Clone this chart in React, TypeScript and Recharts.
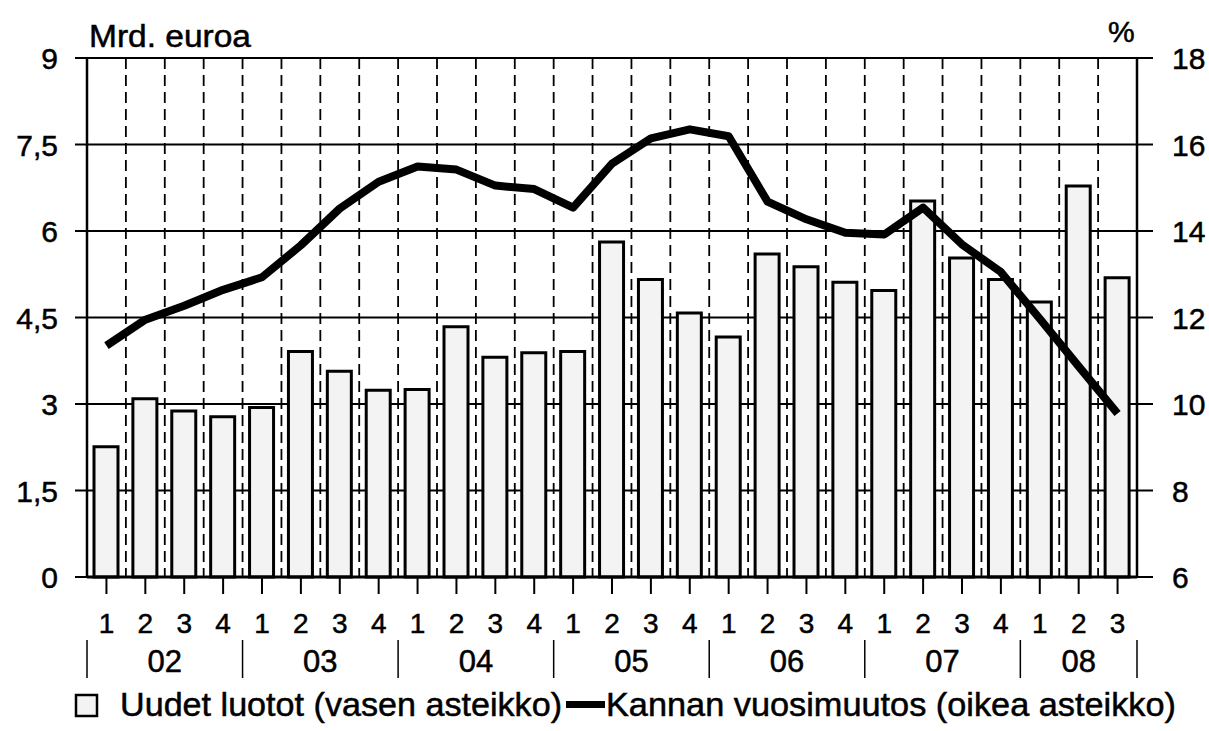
import { Bar, CartesianGrid, ComposedChart, Line, XAxis, YAxis } from "recharts";

// quarters 2002Q1 .. 2008Q3
const periods = [
  "02Q1", "02Q2", "02Q3", "02Q4",
  "03Q1", "03Q2", "03Q3", "03Q4",
  "04Q1", "04Q2", "04Q3", "04Q4",
  "05Q1", "05Q2", "05Q3", "05Q4",
  "06Q1", "06Q2", "06Q3", "06Q4",
  "07Q1", "07Q2", "07Q3", "07Q4",
  "08Q1", "08Q2", "08Q3",
];

// Uudet luotot, mrd. euroa (left scale)
const newLoans = [
  2.26, 3.09, 2.88, 2.78,
  2.94, 3.91, 3.57, 3.24,
  3.25, 4.34, 3.81, 3.89,
  3.91, 5.81, 5.16, 4.58,
  4.16, 5.6, 5.38, 5.11,
  4.97, 6.52, 5.53, 5.16,
  4.77, 6.78, 5.19,
];

// Kannan vuosimuutos, % (right scale)
const stockChange = [
  11.35, 11.95, 12.27, 12.64,
  12.93, 13.67, 14.52, 15.14,
  15.49, 15.42, 15.05, 14.97,
  14.54, 15.56, 16.14, 16.35,
  16.19, 14.68, 14.27, 13.96,
  13.92, 14.54, 13.69, 13.05,
  11.97, 10.87, 9.78,
];

const leftTicks = [0, 1.5, 3, 4.5, 6, 7.5, 9];
const rightTicks = [6, 8, 10, 12, 14, 16, 18];

const data = periods.map((p, i) => ({
  period: p,
  loans: newLoans[i],
  change: stockChange[i],
}));

const W = 1209;
const H = 731;
const PLOT_LEFT = 87;
const PLOT_RIGHT = 1137;
const BAND = (PLOT_RIGHT - PLOT_LEFT) / periods.length;
const FONT = "'Liberation Sans', Arial, Helvetica, sans-serif";
const INK = { fill: "#000", stroke: "#000", strokeWidth: 0.5 };

const yearOf = (p: string) => p.slice(0, 2);
const quarterOf = (p: string) => p.slice(3);

function PeriodTick(props: any) {
  const { x, y, payload, index } = props;
  const p: string = payload.value;
  const yr = yearOf(p);
  const count = periods.filter((q) => yearOf(q) === yr).length;
  const isFirst = quarterOf(p) === "1";
  const isLast = index === periods.length - 1;
  return (
    <g>
      <text x={x} y={y + 39} textAnchor="middle" fontSize={28} {...INK}>
        {quarterOf(p)}
      </text>
      {isFirst ? (
        <>
          <line x1={x - BAND / 2} x2={x - BAND / 2} y1={y + 46} y2={y + 84} stroke="#000" strokeWidth={1.5} />
          <text x={x + ((count - 1) * BAND) / 2} y={y + 78} textAnchor="middle" fontSize={31} {...INK}>
            {yr}
          </text>
        </>
      ) : null}
      {isLast ? (
        <line x1={x + BAND / 2} x2={x + BAND / 2} y1={y + 46} y2={y + 84} stroke="#000" strokeWidth={1.5} />
      ) : null}
    </g>
  );
}

function LeftTick(props: any) {
  const { y, payload } = props;
  return (
    <text x={PLOT_LEFT - 29} y={y + 11} textAnchor="end" fontSize={30} {...INK}>
      {String(payload.value).replace(".", ",")}
    </text>
  );
}

function RightTick(props: any) {
  const { y, payload } = props;
  return (
    <text x={PLOT_RIGHT + 35} y={y + 11} textAnchor="start" fontSize={30} {...INK}>
      {payload.value}
    </text>
  );
}

export default function App() {
  return (
    <div style={{ position: "absolute", left: 0, top: 0, width: W, height: H, background: "#fff", fontFamily: FONT }}>
      <ComposedChart width={W} height={H} data={data} margin={{ top: 58, right: 0, bottom: 0, left: 0 }}>
        <CartesianGrid yAxisId="left" vertical={false} stroke="#000" strokeWidth={2} />
        <CartesianGrid
          yAxisId="left"
          horizontal={false}
          stroke="#000"
          strokeWidth={1.8}
          strokeDasharray="11 6"
          verticalCoordinatesGenerator={({ offset }: any) =>
            periods.slice(1).map((_, k) => offset.left + ((k + 1) * offset.width) / periods.length)
          }
        />
        <XAxis
          dataKey="period"
          height={154}
          interval={0}
          tickSize={17}
          tickMargin={0}
          tick={<PeriodTick />}
          tickLine={{ stroke: "#000", strokeWidth: 2 }}
          axisLine={{ stroke: "#000", strokeWidth: 3 }}
        />
        <YAxis
          yAxisId="left"
          width={PLOT_LEFT}
          domain={[0, 9]}
          ticks={leftTicks}
          interval={0}
          tickSize={12}
          tick={<LeftTick />}
          tickLine={{ stroke: "#000", strokeWidth: 2 }}
          axisLine={{ stroke: "#000", strokeWidth: 2.5 }}
        />
        <YAxis
          yAxisId="right"
          orientation="right"
          width={W - PLOT_RIGHT}
          domain={[6, 18]}
          ticks={rightTicks}
          interval={0}
          tickSize={16}
          tick={<RightTick />}
          tickLine={{ stroke: "#000", strokeWidth: 2 }}
          axisLine={{ stroke: "#000", strokeWidth: 2.5 }}
        />
        <Bar
          yAxisId="left"
          dataKey="loans"
          barSize={24}
          fill="#f3f3f3"
          stroke="#000"
          strokeWidth={3}
          isAnimationActive={false}
        />
        <Line
          yAxisId="right"
          dataKey="change"
          type="linear"
          stroke="#000"
          strokeWidth={8}
          strokeLinejoin="round"
          dot={false}
          activeDot={false}
          isAnimationActive={false}
        />
      </ComposedChart>
      <svg width={W} height={H} style={{ position: "absolute", left: 0, top: 0, pointerEvents: "none" }}>
        <text x={89} y={47} fontSize={31} textLength={162} lengthAdjust="spacingAndGlyphs" {...INK}>Mrd. euroa</text>
        <text x={1108} y={42} fontSize={30} {...INK}>%</text>
        <rect x={76} y={695} width={21} height={21} fill="#f3f3f3" stroke="#000" strokeWidth={2.5} />
        <text x={120} y={716} fontSize={33} textLength={442} lengthAdjust="spacingAndGlyphs" {...INK}>Uudet luotot (vasen asteikko)</text>
        <rect x={566} y={701} width={39} height={7} fill="#000" />
        <text x={606} y={716} fontSize={33} textLength={570} lengthAdjust="spacingAndGlyphs" {...INK}>Kannan vuosimuutos (oikea asteikko)</text>
      </svg>
    </div>
  );
}
